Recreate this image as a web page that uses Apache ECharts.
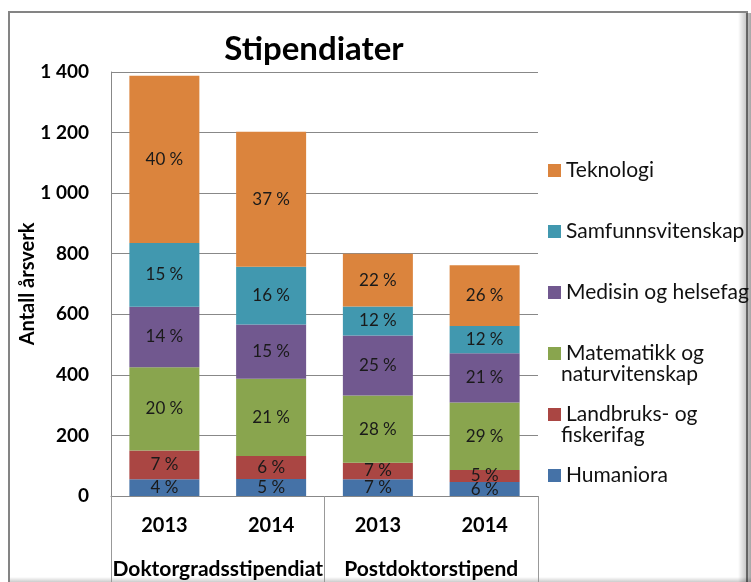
<!DOCTYPE html>
<html>
<head>
<meta charset="utf-8">
<script src="https://cdn.jsdelivr.net/npm/echarts@6/dist/echarts.min.js"></script>
<style>
  html, body { margin: 0; padding: 0; background: #fff; }
  #chart { width: 751px; height: 582px; }
</style>
</head>
<body>
<div id="chart"></div>
<script>
// values (antall årsverk)
const years = ['2013', '2014', '2013', '2014'];
const groups = ['Doktorgradsstipendiat', 'Postdoktorstipend'];
const fields = ['Humaniora', 'Landbruks- og fiskerifag', 'Matematikk og naturvitenskap',
    'Medisin og helsefag', 'Samfunnsvitenskap', 'Teknologi'];
const humaniora = [55, 56, 55, 46];
const landbruk = [95, 76, 55, 40];
const matematikk = [275, 255, 222, 223];
const medisin = [200, 179, 198, 162];
const samfunn = [210, 191, 96, 90];
const teknologi = [553, 446, 174, 201];
const colors = ['#4572A7', '#AA4643', '#89A54E', '#71588F', '#4198AF', '#DB843D'];

const values = [humaniora, landbruk, matematikk, medisin, samfunn, teknologi];
const totals = years.map((y, i) => values.reduce((s, v) => s + v[i], 0));

const font = 'Lato';

const chart = echarts.init(document.getElementById('chart'), null, { renderer: 'canvas' });

const series = fields.map((name, k) => ({
    name: name,
    type: 'bar',
    stack: 'total',
    barWidth: 70,
    data: values[k],
    itemStyle: { color: colors[k] },
    label: {
        show: true,
        position: 'inside',
        fontFamily: font,
        fontSize: 17,
        color: '#1a1a1a',
        formatter: p => Math.round(p.value / totals[p.dataIndex] * 100) + ' %'
    }
}));

// first line of each legend text; the second line is added as text below
const firstLine = {
    'Matematikk og naturvitenskap': 'Matematikk og',
    'Landbruks- og fiskerifag': 'Landbruks- og'
};

const option = {
    backgroundColor: '#ffffff',
    animation: false,
    title: {
        text: 'Stipendiater',
        left: 309,
        top: 28,
        textAlign: 'center',
        textStyle: { fontFamily: font, fontSize: 33, fontWeight: 'bold', color: '#000' }
    },
    grid: { left: 111, right: 213, top: 72, bottom: 86 },
    legend: {
        orient: 'vertical',
        left: 543,
        top: 153,
        itemWidth: 13,
        itemHeight: 13,
        itemGap: 36,
        icon: 'rect',
        data: fields.slice().reverse(),
        formatter: name => firstLine[name] || name,
        textStyle: { fontFamily: font, fontSize: 21, lineHeight: 25, color: '#111' }
    },
    xAxis: [{
        type: 'category',
        data: years,
        axisLine: { lineStyle: { color: '#888', width: 1 } },
        axisTick: { show: false },
        axisLabel: { fontFamily: font, fontSize: 20, fontWeight: 'bold', color: '#000', margin: 20 }
    }, {
        type: 'category',
        data: groups,
        position: 'bottom',
        axisLine: { show: false },
        axisTick: { show: true, length: 90, interval: 0, lineStyle: { color: '#999' } },
        axisLabel: { fontFamily: font, fontSize: 21, fontWeight: 'bold', color: '#000', margin: 63, interval: 0 }
    }],
    yAxis: {
        type: 'value',
        min: 0,
        max: 1400,
        interval: 200,
        name: 'Antall årsverk',
        nameLocation: 'middle',
        nameGap: 73,
        nameMoveOverlap: false,
        nameTextStyle: { fontFamily: font, fontSize: 20, fontWeight: 'bold', color: '#000' },
        axisLine: { show: true, lineStyle: { color: '#888' } },
        axisTick: { show: false },
        splitLine: { lineStyle: { color: '#888' } },
        axisLabel: {
            fontFamily: font, fontSize: 19, fontWeight: 'bold', color: '#000', margin: 22,
            formatter: v => String(v).replace(/\B(?=(\d{3})+(?!\d))/g, ' ')
        }
    },
    series: series,
    graphic: [
        {
            type: 'text', left: 561, top: 364,
            style: { text: 'naturvitenskap', font: '21px ' + font, fill: '#111' }
        },
        {
            type: 'text', left: 561, top: 425,
            style: { text: 'fiskerifag', font: '21px ' + font, fill: '#111' }
        },
        // frame around the chart
        {
            type: 'rect', silent: true,
            shape: { x: 9, y: 12, width: 738, height: 600 },
            style: { fill: 'none', stroke: '#848484', lineWidth: 2 }
        },
        {
            type: 'rect', silent: true,
            shape: { x: 738, y: 13, width: 13, height: 569 },
            style: {
                fill: new echarts.graphic.LinearGradient(0, 0, 1, 0, [
                    { offset: 0, color: 'rgba(0,0,0,0)' },
                    { offset: 1, color: 'rgba(0,0,0,0.35)' }
                ])
            }
        },
        {
            type: 'rect', silent: true,
            shape: { x: 10, y: 577, width: 741, height: 5 },
            style: {
                fill: new echarts.graphic.LinearGradient(0, 0, 0, 1, [
                    { offset: 0, color: 'rgba(0,0,0,0)' },
                    { offset: 1, color: 'rgba(0,0,0,0.2)' }
                ])
            }
        }
    ]
};

chart.setOption(option);
</script>
</body>
</html>
